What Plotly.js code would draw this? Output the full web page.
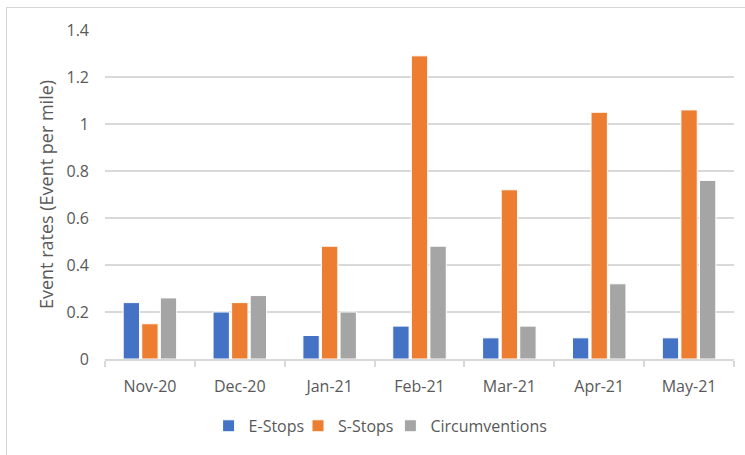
<!DOCTYPE html>
<html>
<head>
<meta charset="utf-8">
<script src="https://cdn.plot.ly/plotly-3.0.1.min.js"></script>
<style>
  html, body { margin: 0; padding: 0; background: #ffffff; }
  #wrap { position: relative; width: 745px; height: 455px; overflow: hidden; }
  #chart { position: absolute; left: 0; top: 0; width: 745px; height: 455px; }
  /* chart-area frame: only the top and left edges fall inside the page */
  #frame { position: absolute; left: 6px; top: 7px; width: 760px; height: 470px;
           border-left: 1.5px solid #d6d6d6; border-top: 1.5px solid #d6d6d6; pointer-events: none; }
</style>
</head>
<body>
<div id="wrap">
  <div id="chart"></div>
  <div id="frame"></div>
</div>
<script>
// Monthly event rates (events per mile)
const months = ["Nov-20", "Dec-20", "Jan-21", "Feb-21", "Mar-21", "Apr-21", "May-21"];
const eStops = [0.24, 0.20, 0.10, 0.14, 0.09, 0.09, 0.09];
const sStops = [0.15, 0.24, 0.48, 1.29, 0.72, 1.05, 1.06];
const circumventions = [0.26, 0.27, 0.20, 0.48, 0.14, 0.32, 0.76];

const seriesNames = ["E-Stops", "S-Stops", "Circumventions"];
const seriesColors = ["#4472C4", "#ED7D31", "#A5A5A5"];
const seriesValues = [eStops, sStops, circumventions];

const textColor = "#595959";
const gridColor = "#D9D9D9";
const fontFamily = "'Open Sans', 'Liberation Sans', sans-serif";

// one compact legend per series so the entries sit close together in a row
const legendIds = ["legend", "legend2", "legend3"];
const legendLeft = [0.28, 0.4, 0.524];

const traces = seriesValues.map((vals, i) => ({
  type: "bar",
  name: seriesNames[i],
  x: months,
  y: vals,
  legend: legendIds[i],
  marker: { color: seriesColors[i], line: { color: "#ffffff", width: 1 } },
  hoverinfo: "x+y+name"
}));

const layout = {
  width: 745,
  height: 455,
  paper_bgcolor: "#ffffff",
  plot_bgcolor: "#ffffff",
  margin: { l: 105, r: 11, t: 30, b: 96, pad: 0 },
  font: { family: fontFamily, size: 16, color: textColor },
  barmode: "group",
  bargap: 0.38,
  bargroupgap: 0.12,
  showlegend: true,
  xaxis: {
    type: "category",
    showgrid: false,
    showline: true,
    linecolor: gridColor,
    linewidth: 1.5,
    ticks: "outside",
    tickson: "boundaries",
    ticklen: 6,
    tickcolor: gridColor,
    tickwidth: 1.5,
    ticklabelstandoff: 12,
    tickfont: { family: fontFamily, size: 16, color: textColor },
    zeroline: false
  },
  yaxis: {
    range: [0, 1.4],
    dtick: 0.2,
    tick0: 0,
    showgrid: true,
    gridcolor: gridColor,
    gridwidth: 1.5,
    showline: false,
    zeroline: false,
    ticks: "",
    ticklabelstandoff: 15,
    tickfont: { family: fontFamily, size: 16, color: textColor },
    title: {
      text: "Event rates (Event per mile)",
      font: { family: fontFamily, size: 18, color: textColor },
      standoff: 8
    }
  }
};

legendIds.forEach((id, i) => {
  layout[id] = {
    orientation: "h",
    xref: "container", yref: "container",
    x: legendLeft[i], xanchor: "left",
    y: 0.064, yanchor: "middle",
    bgcolor: "rgba(0,0,0,0)",
    borderwidth: 0,
    font: { family: fontFamily, size: 16, color: textColor },
    itemwidth: 30
  };
});

Plotly.newPlot("chart", traces, layout, { displayModeBar: false, staticPlot: false });
</script>
</body>
</html>
